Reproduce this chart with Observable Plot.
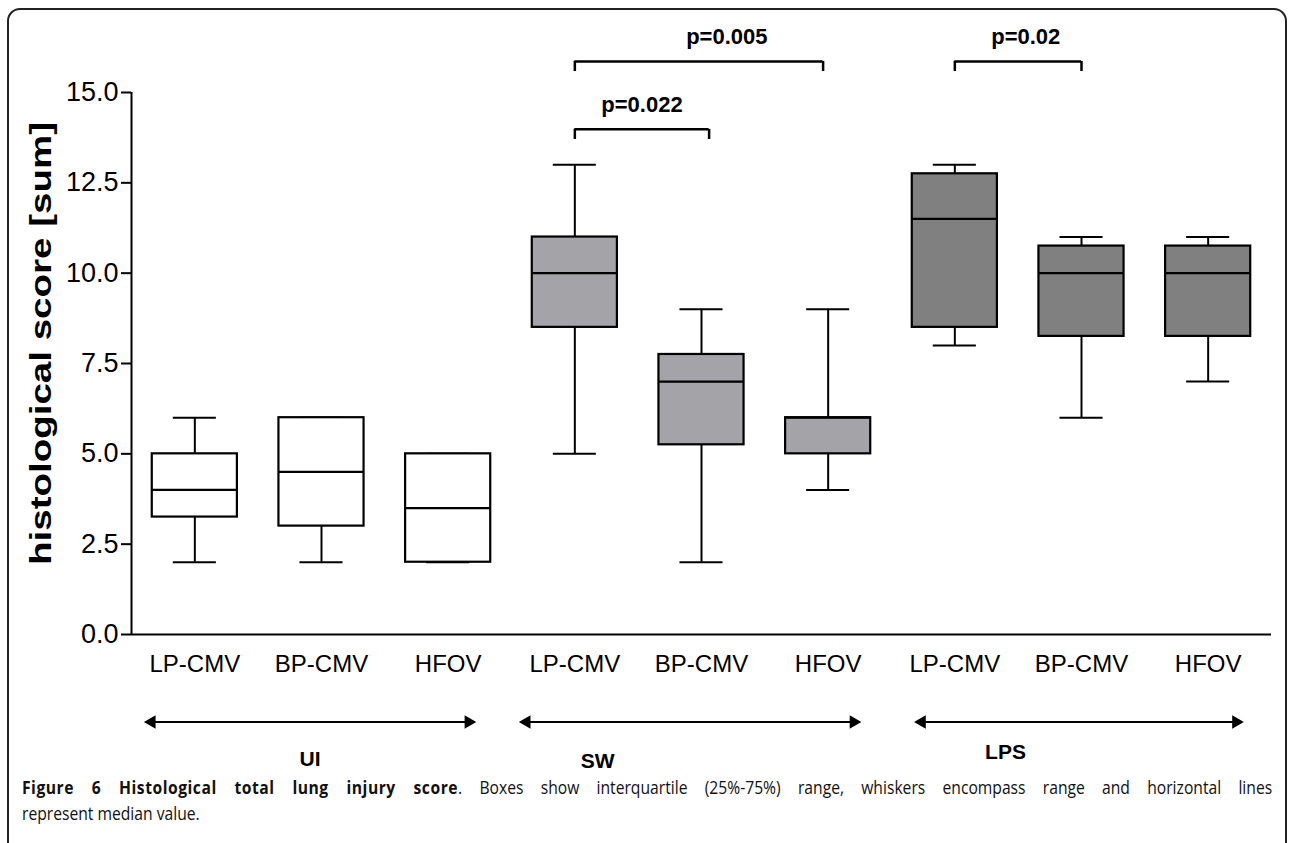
<!DOCTYPE html>
<html>
<head>
<meta charset="utf-8">
<script src="https://cdn.jsdelivr.net/npm/d3@7"></script>
<script src="https://cdn.jsdelivr.net/npm/@observablehq/plot@0.6"></script>
<style>
  html, body { margin: 0; padding: 0; background: #fff; width: 1292px; height: 843px; overflow: hidden; }
  #frame { position: absolute; left: 7px; top: 8px; width: 1276px; height: 900px; border: 2px solid #222; border-radius: 13px; }
  #chart { position: absolute; left: 0; top: 0; }
  #caption { position: absolute; left: 22px; top: 774px; width: 1437px; transform: scaleX(0.87); transform-origin: left top;
             font-family: "Open Sans", sans-serif; font-size: 18px; line-height: 26px; color: #111; }
  #caption .l1 { text-align: justify; text-align-last: justify; white-space: nowrap; }
  #caption b { letter-spacing: 0.6px; }
</style>
</head>
<body>
<div id="frame"></div>
<div id="chart"></div>
<div id="caption">
  <div class="l1"><b>Figure 6 Histological total lung injury score</b>. Boxes show interquartile (25%-75%) range, whiskers encompass range and horizontal lines</div>
  <div>represent median value.</div>
</div>
<script>
// ---- data ----
const categories = ["LP-CMV", "BP-CMV", "HFOV"];
const groups = ["UI", "SW", "LPS"];
const mins    = [2,    2,   2,   5,   2,    4, 8,     6,     7];
const q1s     = [3.25, 3,   2,   8.5, 5.25, 5, 8.5,   8.25,  8.25];
const medians = [4,    4.5, 3.5, 10,  7,    6, 11.5,  10,    10];
const q3s     = [5,    6,   5,   11,  7.75, 6, 12.75, 10.75, 10.75];
const maxs    = [6,    6,   5,   13,  9,    9, 13,    11,    11];
const groupFills = ["#ffffff", "#a4a3a8", "#808080"];
const yTicks = [0, 2.5, 5, 7.5, 10, 12.5, 15];
const yLabel = "histological score [sum]";

// significance brackets (x in box index, y in score units)
const bracketFrom   = [3, 3, 6];
const bracketTo     = [4.06, 4.96, 7];
const bracketLevel  = [13.98, 15.86, 15.86];
const bracketText   = ["p=0.022", "p=0.005", "p=0.02"];
const bracketTextX  = [3.53, 4.2, 6.56];

// group arrows and group labels
const arrowFrom = [-0.38, 2.58, 5.7];
const arrowTo   = [2.2, 5.24, 8.26];
const arrowLevel = -2.42;
const groupLabelX = [0.91, 3.18, 6.4];
const groupLabelLevel = [-3.44, -3.5, -3.26];

// ---- build tables ----
const rows = mins.map((m, i) => ({
  i, group: groups[Math.floor(i / 3)], cat: categories[i % 3],
  min: m, q1: q1s[i], median: medians[i], q3: q3s[i], max: maxs[i],
  fill: groupFills[Math.floor(i / 3)]
}));
const brackets = bracketFrom.map((f, k) => ({from: f, to: bracketTo[k], level: bracketLevel[k], text: bracketText[k], tx: bracketTextX[k]}));
const arrows = groups.map((g, k) => ({g, from: arrowFrom[k], to: arrowTo[k], lx: groupLabelX[k], ly: groupLabelLevel[k]}));

const halfBox = 0.336, halfCap = 0.17, drop = 0.28;
const sw = 2;

const chart = Plot.plot({
  width: 1292,
  height: 774,
  marginLeft: 131,
  marginRight: 21,
  marginTop: 92,
  marginBottom: 140,
  style: {fontFamily: "'Liberation Sans', Arial, sans-serif", color: "#000", background: "transparent"},
  x: {domain: [-0.5, 8.5]},
  y: {domain: [0, 15]},
  marks: [
    Plot.axisY({ticks: yTicks, tickFormat: d3.format(".1f"), tickSize: 10, tickPadding: 3, fontSize: 27, label: null, strokeWidth: 2}),
    Plot.axisX({ticks: d3.range(9), tickFormat: i => categories[i % 3], tickSize: 0, tickPadding: 20, fontSize: 24, label: null}),
    Plot.ruleX([-0.5], {y1: 0, y2: 15, strokeWidth: sw}),
    Plot.ruleY([0], {strokeWidth: sw}),
    // whiskers
    Plot.ruleX(rows, {x: "i", y1: "min", y2: "q1", strokeWidth: sw}),
    Plot.ruleX(rows, {x: "i", y1: "q3", y2: "max", strokeWidth: sw}),
    Plot.ruleY(rows, {y: "min", x1: d => d.i - halfCap, x2: d => d.i + halfCap, strokeWidth: sw}),
    Plot.ruleY(rows, {y: "max", x1: d => d.i - halfCap, x2: d => d.i + halfCap, strokeWidth: sw}),
    // boxes
    Plot.rect(rows, {x1: d => d.i - halfBox, x2: d => d.i + halfBox, y1: "q1", y2: "q3", fill: "fill", stroke: "#000", strokeWidth: 2.2}),
    Plot.ruleY(rows, {y: "median", x1: d => d.i - halfBox, x2: d => d.i + halfBox, strokeWidth: 2.2}),
    // brackets
    Plot.ruleY(brackets, {y: "level", x1: "from", x2: "to", strokeWidth: 2.5}),
    Plot.ruleX(brackets, {x: "from", y1: "level", y2: d => d.level - drop, strokeWidth: 2.5}),
    Plot.ruleX(brackets, {x: "to", y1: "level", y2: d => d.level - drop, strokeWidth: 2.5}),
    Plot.text(brackets, {x: "tx", y: "level", text: "text", dy: -24, fontSize: 22, fontWeight: "bold"}),
    // group arrows
    Plot.link(arrows, {x1: "from", x2: "to", y1: arrowLevel, y2: arrowLevel, strokeWidth: 2}),
    Plot.dot(arrows, {x: "from", y: arrowLevel, symbol: "triangle", r: 5, fill: "#000", stroke: null, rotate: -90, dx: 5}),
    Plot.dot(arrows, {x: "to", y: arrowLevel, symbol: "triangle", r: 5, fill: "#000", stroke: null, rotate: 90, dx: -5}),
    Plot.text(arrows, {x: "lx", y: "ly", text: "g", fontSize: 21, fontWeight: "bold"}),
    // y label
    Plot.text([yLabel], {frameAnchor: "left", textAnchor: "middle", rotate: -90, dx: -90, dy: -20, fontSize: 30, fontWeight: "bold", className: "ylab"})
  ]
});
// stretch the y label along its length to match the figure
d3.select(chart).selectAll(".ylab text").attr("textLength", 443).attr("lengthAdjust", "spacingAndGlyphs");
document.getElementById("chart").appendChild(chart);
</script>
</body>
</html>
